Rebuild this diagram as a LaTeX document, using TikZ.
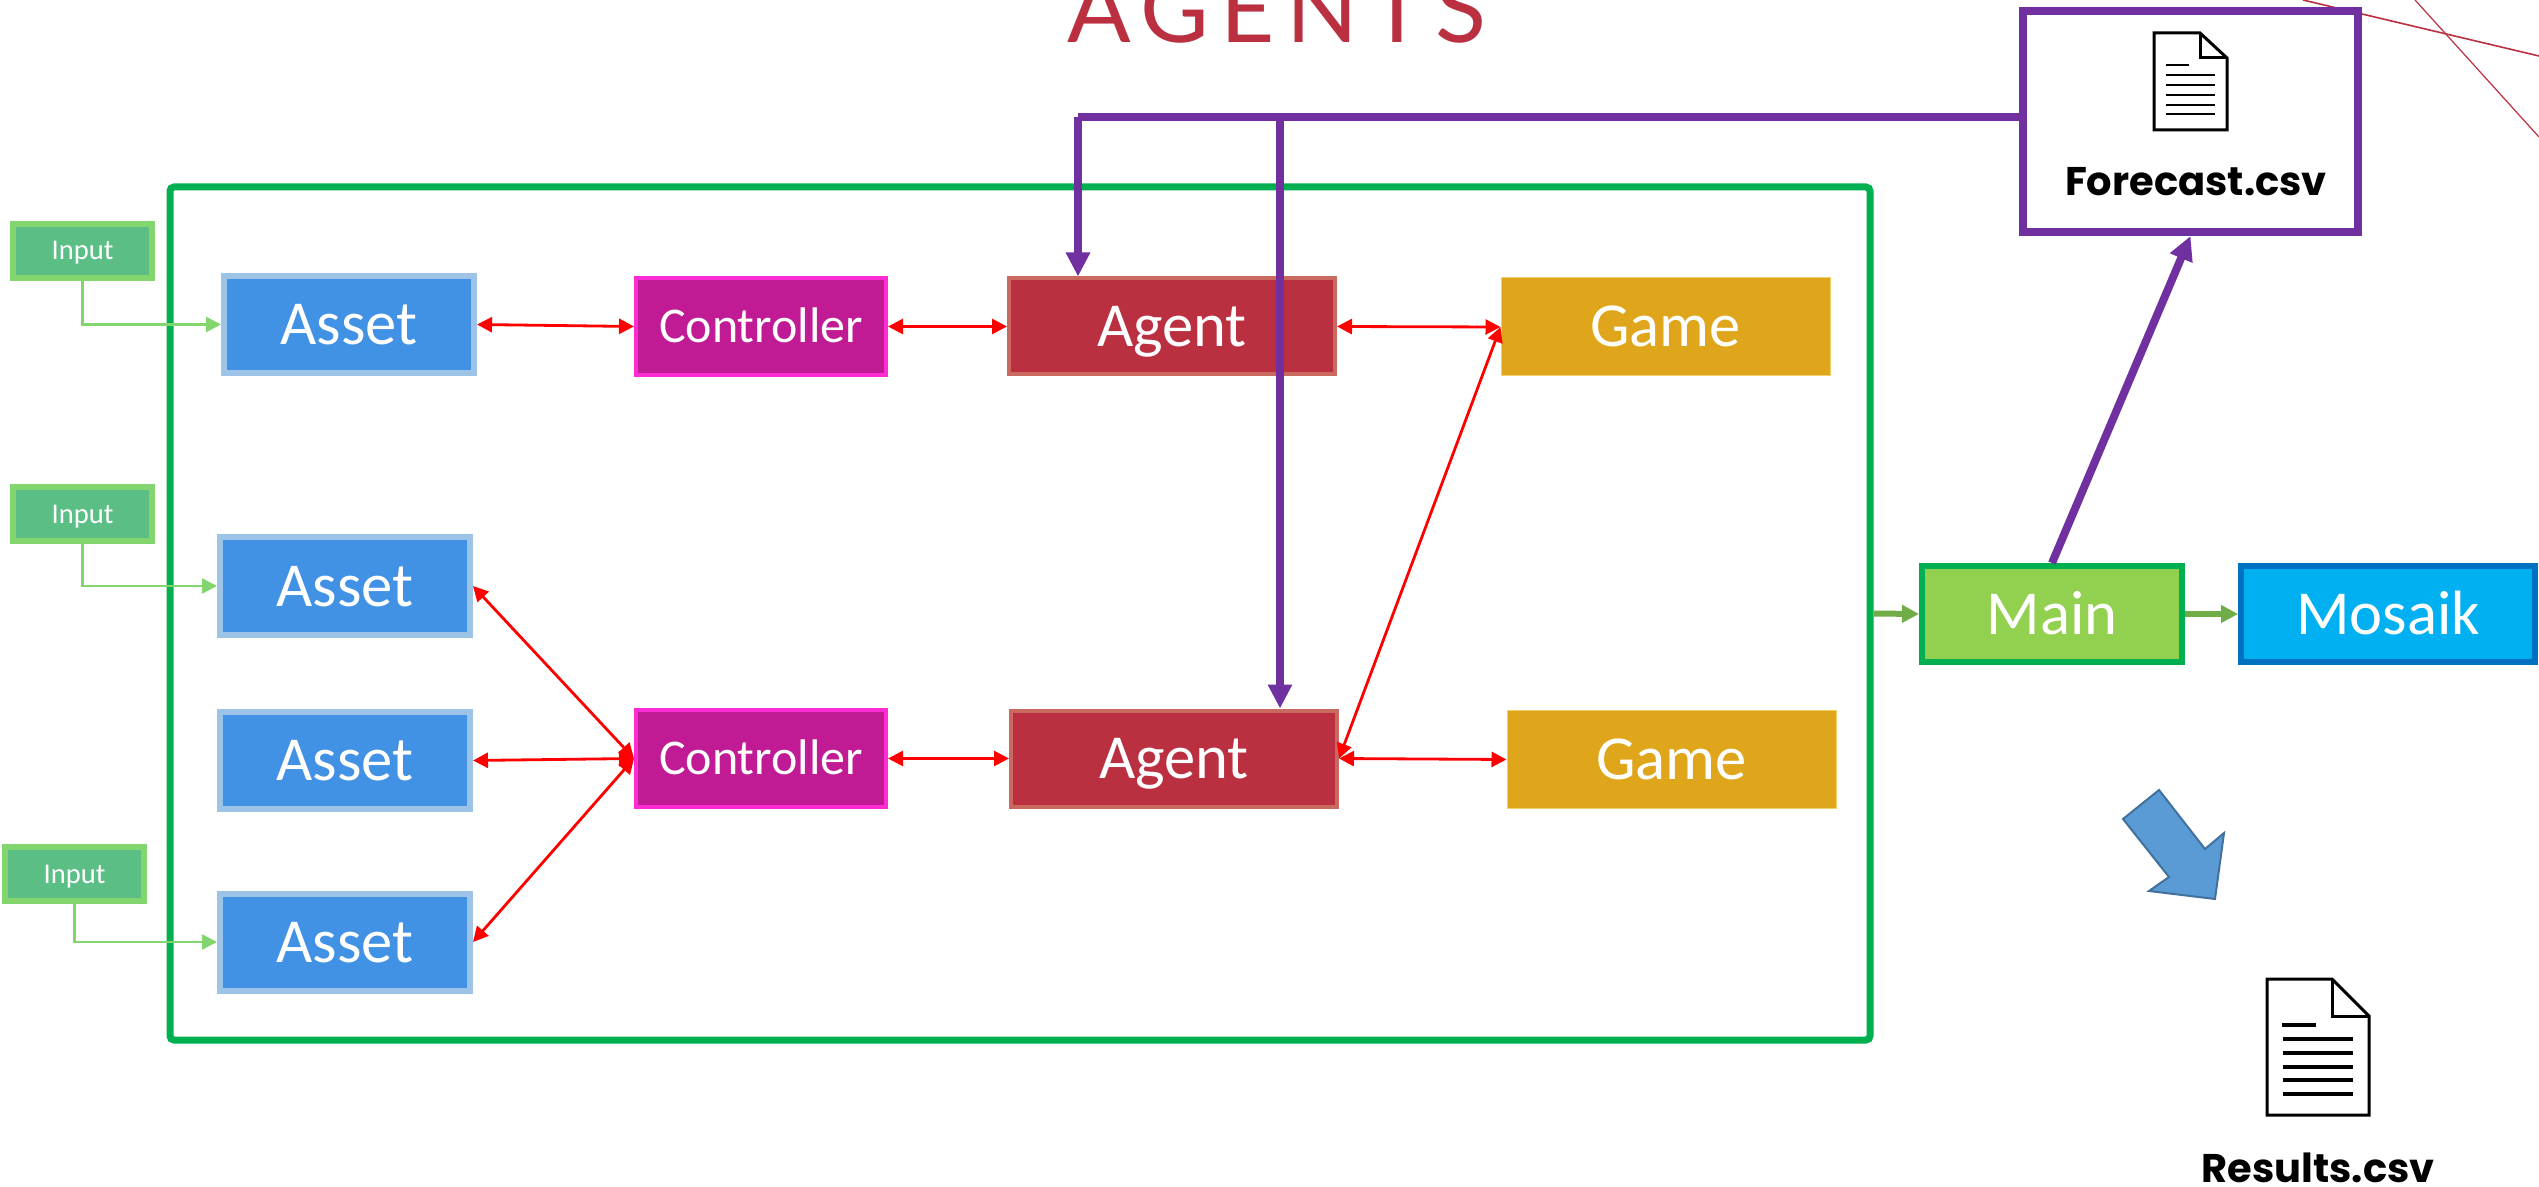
\documentclass[tikz,border=0pt]{standalone}
\usepackage{fontspec}
\setmainfont{Carlito}
\newfontfamily\titlefont{Lato}[LetterSpace=12]
\newfontfamily\filefont{Poppins}
\usetikzlibrary{arrows.meta,calc}
\definecolor{purp}{HTML}{7030A0}
\definecolor{frameg}{HTML}{00B050}
\definecolor{agentred}{HTML}{BA3040}
\definecolor{assetfill}{HTML}{4191E5}
\definecolor{assetline}{HTML}{9DC3E6}
\definecolor{ctrlfill}{HTML}{C01B95}
\definecolor{ctrlline}{HTML}{FF2BD4}
\definecolor{agentline}{HTML}{C9695F}
\definecolor{gamefill}{HTML}{E0A61B}
\definecolor{gameline}{HTML}{F4CF6A}
\definecolor{inputfill}{HTML}{5BBF85}
\definecolor{inputline}{HTML}{83D56E}
\definecolor{mainarrowc}{HTML}{70AD47}
\definecolor{arrowblue}{HTML}{5B9BD5}
\definecolor{arrowblueline}{HTML}{41719C}
\definecolor{mainfillc}{HTML}{92D050}
\definecolor{mosfill}{HTML}{00B0F0}
\definecolor{mosline}{HTML}{0070C0}
\tikzset{
  boxbase/.style={draw,rectangle,inner sep=0pt,text=white,text height=20pt,text depth=0pt,font=\fontsize{31.3}{31.3}\selectfont},
  assetbox/.style={boxbase,fill=assetfill,draw=assetline,line width=3pt,minimum width=125pt,minimum height=48.5pt},
  ctrlbox/.style={boxbase,fill=ctrlfill,draw=ctrlline,line width=2pt,minimum width=125pt,minimum height=48.5pt,font=\fontsize{25}{25}\selectfont,text height=16pt},
  agentbox/.style={boxbase,fill=agentred,draw=agentline,line width=2pt,minimum width=163pt,minimum height=48pt},
  gamebox/.style={boxbase,fill=gamefill,draw=gameline,line width=.5pt,minimum width=164.5pt,minimum height=49pt},
  inputbox/.style={boxbase,fill=inputfill,draw=inputline,line width=3pt,minimum width=69.5pt,minimum height=27pt,font=\fontsize{14.3}{14.3}\selectfont,text height=9pt},
  mainbox/.style={boxbase,line width=3pt,minimum height=48pt},
  redarrow/.style={draw=red,line width=1.4pt,{Triangle[length=7.5pt,width=7.5pt]}-{Triangle[length=7.5pt,width=7.5pt]}},
  inarrow/.style={draw=inputline,line width=1.3pt,-{Triangle[length=7.5pt,width=7.5pt]}},
  mainarrow/.style={draw=mainarrowc,line width=3pt,-{Triangle[length=8.5pt,width=8.5pt]}},
  purparrow/.style={draw=purp,line width=4pt,-{Triangle[length=12pt,width=11.5pt]}},
  purpline/.style={draw=purp,line width=4pt},
  doc/.style={draw=black,fill=white,line width=1.5pt,line join=miter},
  docline/.style={draw=black,line width=1.2pt},
  filelabel/.style={inner sep=0pt,font=\filefont\bfseries\fontsize{20}{20}\selectfont,text=black},
}
\begin{document}
\begin{tikzpicture}[x=0.5pt,y=-0.5pt]
\useasboundingbox (0,0) rectangle (2539,1187);
\clip (0,0) rectangle (2539,1187);
% title
\node[inner sep=0pt,anchor=base,text=agentred,font=\titlefont\fontsize{47}{47}\selectfont] (title) at (1277,43) {AGENTS};
% thin lines
\draw[agentred,line width=.8pt] (2303,0) -- (2539,56);
\draw[agentred,line width=.6pt] (2415,0) -- (2539,137);
% frame
\node[draw=frameg,line width=3.5pt,rounded corners=2pt,inner sep=0pt,minimum width=850pt,minimum height=426.5pt] (frame) at (1020,613.5) {};
% nodes
\node[assetbox] (as1) at (349,324.5) {Asset};
\node[assetbox] (as2) at (345,586) {Asset};
\node[assetbox] (as3) at (345,760.5) {Asset};
\node[assetbox] (as4) at (345,942) {Asset};
\node[ctrlbox] (c1) at (761,326.5) {Controller};
\node[ctrlbox] (c2) at (761,758.5) {Controller};
\node[agentbox] (ag1) at (1172,326.5) {Agent};
\node[agentbox] (ag2) at (1174,758.5) {Agent};
\node[gamebox] (g1) at (1665.5,327) {Game};
\node[gamebox] (g2) at (1671.5,759.5) {Game};
\node[inputbox] (i1) at (82.5,251) {Input};
\node[inputbox] (i2) at (82.5,514.5) {Input};
\node[inputbox] (i3) at (74.5,874) {Input};
\node[mainbox,fill=mainfillc,draw=frameg,minimum width=130pt] (main) at (2052,614) {Main};
\node[mainbox,fill=mosfill,draw=mosline,minimum width=147pt] (mos) at (2388,614) {Mosaik};
% forecast
\node[draw=purp,fill=white,line width=4pt,inner sep=0pt,minimum width=167.5pt,minimum height=110.5pt] (fc) at (2190.5,121.5) {};
\draw[doc] (2154,33) -- (2200,33) -- (2227,58) -- (2227,130) -- (2154,130) -- cycle;
\draw[doc,fill=none] (2200,33) -- (2200,58) -- (2227,58);
\foreach \yy in {75,85,95,105,114} \draw[docline] (2166,\yy) -- (2215,\yy);
\draw[docline] (2166,65) -- (2188.5,65);
\node[filelabel,anchor=base] (fcl) at (2196,196) {Forecast.csv};
% results
\draw[doc] (2267,979) -- (2332,979) -- (2369,1016) -- (2369,1115) -- (2267,1115) -- cycle;
\draw[doc,fill=none] (2332,979) -- (2332,1016) -- (2369,1016);
\foreach \yy in {1039,1053,1067,1080,1094} \draw[docline,line width=1.8pt] (2283,\yy) -- (2353,\yy);
\draw[docline,line width=1.8pt] (2282,1025) -- (2316,1025);
\node[filelabel,anchor=base] (res) at (2318,1182) {Results.csv};
% block arrow
\draw[fill=arrowblue,draw=arrowblueline,line width=1pt] (2159,790) -- (2123,819) -- (2169,877) -- (2149,891) -- (2215,899) -- (2224,833) -- (2205,849) -- cycle;
% red
\draw[redarrow] (as1.east) -- (c1.west);
\draw[redarrow] (c1.east) -- (ag1.west);
\draw[redarrow] (ag1.east) -- (g1.west);
\draw[redarrow] (ag2.east) -- (g1.west);
\draw[redarrow] (ag2.east) -- (g2.west);
\draw[redarrow] (c2.east) -- (ag2.west);
\draw[redarrow] (c2.west) -- (as2.east);
\draw[redarrow] (c2.west) -- (as3.east);
\draw[redarrow] (c2.west) -- (as4.east);
% inputs
\draw[inarrow] (i1.south) |- (as1.west);
\draw[inarrow] (i2.south) |- (as2.west);
\draw[inarrow] (i3.south) |- (as4.west);
% main arrows
\draw[mainarrow] (frame.east) -- (main.west);
\draw[mainarrow] (main.east) -- (mos.west);
% purple
\coordinate (j1) at (1078,117);
\coordinate (j2) at (1280,117);
\draw[purpline] (j1 -| fc.west) -- (j1);
\draw[purparrow] (j1) -- (j1 |- ag1.north);
\draw[purparrow] (j2) -- (j2 |- ag2.north);
\draw[purparrow] (main.north) -- (fc.south);
\end{tikzpicture}
\end{document}
